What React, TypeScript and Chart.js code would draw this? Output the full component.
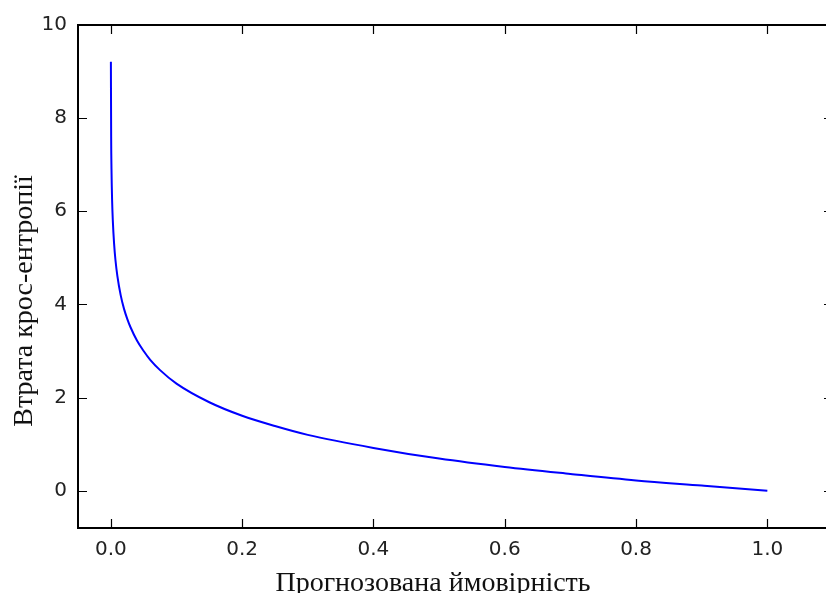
import React, { useEffect, useRef } from "react";
import { Chart, registerables } from "chart.js";

Chart.register(...registerables);

// Predicted probability (x) and cross-entropy loss (y)
const probabilities = [0.0001, 0.0005, 0.001, 0.002, 0.003, 0.005, 0.007, 0.01, 0.015, 0.02, 0.025, 0.03, 0.04, 0.05, 0.06, 0.075, 0.1, 0.15, 0.2, 0.25, 0.3, 0.4, 0.5, 0.6, 0.7, 0.8, 0.9, 1.0];
const lossValues = [9.21, 7.6, 6.91, 6.21, 5.81, 5.3, 4.96, 4.61, 4.2, 3.91, 3.69, 3.51, 3.22, 3.0, 2.81, 2.59, 2.3, 1.9, 1.61, 1.39, 1.2, 0.92, 0.69, 0.51, 0.36, 0.22, 0.11, 0.0];

const xTickValues = [0, 0.2, 0.4, 0.6, 0.8, 1.0];
const xTickLabels = ["0.0", "0.2", "0.4", "0.6", "0.8", "1.0"];
const yTickValues = [0, 2, 4, 6, 8, 10];
const yTickLabels = ["0", "2", "4", "6", "8", "10"];

const xTitle = "Прогнозована ймовірність";
const yTitle = "Втрата крос-ентропії";

const X_MIN = -0.05;
const X_MAX = 1.1;
const Y_MIN = -0.8;
const Y_MAX = 10;

const CANVAS_W = 850;
const CANVAS_H = 600;

const framePlugin = {
  id: "frameAndTicks",
  afterDatasetsDraw(chart: any) {
    const { ctx, chartArea } = chart;
    const xs = chart.scales.x;
    const ys = chart.scales.y;
    const { left, right, top, bottom } = chartArea;
    const len = 9;
    ctx.save();
    ctx.strokeStyle = "#000";
    ctx.lineWidth = 1.2;
    ctx.beginPath();
    for (const v of xTickValues) {
      const px = Math.round(xs.getPixelForValue(v)) + 0.5;
      ctx.moveTo(px, bottom);
      ctx.lineTo(px, bottom - len);
      ctx.moveTo(px, top);
      ctx.lineTo(px, top + len);
    }
    for (const v of yTickValues) {
      const py = Math.round(ys.getPixelForValue(v)) + 0.5;
      ctx.moveTo(left, py);
      ctx.lineTo(left + len, py);
      ctx.moveTo(right, py);
      ctx.lineTo(right - len, py);
    }
    ctx.stroke();
    ctx.lineWidth = 2;
    ctx.strokeStyle = "#000";
    ctx.strokeRect(left, top, right - left, bottom - top);
    ctx.restore();
  },
  afterDraw(chart: any) {
    const { ctx } = chart;
    ctx.save();
    ctx.fillStyle = "#111";
    ctx.font = '28px "Liberation Serif", "Times New Roman", serif';
    ctx.textAlign = "center";
    ctx.textBaseline = "alphabetic";
    ctx.fillText(xTitle, 433, 591);
    ctx.translate(32, 301);
    ctx.rotate(-Math.PI / 2);
    ctx.fillText(yTitle, 0, 0);
    ctx.restore();
  },
};

export default function App() {
  const canvasRef = useRef<HTMLCanvasElement | null>(null);

  useEffect(() => {
    if (!canvasRef.current) return;
    const points = probabilities.map((p, i) => ({ x: p, y: lossValues[i] }));
    const tickFont = { family: '"DejaVu Sans", sans-serif', size: 20 };
    const chart = new Chart(canvasRef.current, {
      type: "line",
      data: {
        datasets: [
          {
            data: points,
            borderColor: "#0000ff",
            borderWidth: 2,
            pointRadius: 0,
            fill: false,
            cubicInterpolationMode: "monotone",
          },
        ],
      },
      options: {
        animation: false,
        responsive: false,
        events: [],
        layout: { padding: { top: 25, right: CANVAS_W - 833, left: 0, bottom: 0 } },
        plugins: { legend: { display: false }, tooltip: { enabled: false } },
        scales: {
          x: {
            type: "linear",
            min: X_MIN,
            max: X_MAX,
            afterBuildTicks: (s: any) => {
              s.ticks = xTickValues.map((v) => ({ value: v }));
            },
            afterFit: (s: any) => {
              s.height = CANVAS_H - 528;
            },
            grid: { display: false, drawTicks: false },
            border: { display: false },
            ticks: {
              padding: 10,
              color: "#222",
              font: tickFont,
              maxRotation: 0,
              callback: (v: any) => {
                const i = xTickValues.findIndex((t) => Math.abs(t - v) < 1e-9);
                return i >= 0 ? xTickLabels[i] : "";
              },
            },
          },
          y: {
            type: "linear",
            min: Y_MIN,
            max: Y_MAX,
            afterBuildTicks: (s: any) => {
              s.ticks = yTickValues.map((v) => ({ value: v }));
            },
            afterFit: (s: any) => {
              s.width = 78;
            },
            grid: { display: false, drawTicks: false },
            border: { display: false },
            ticks: {
              padding: 11,
              color: "#222",
              font: tickFont,
              callback: (v: any) => {
                const i = yTickValues.findIndex((t) => Math.abs(t - v) < 1e-9);
                return i >= 0 ? yTickLabels[i] : "";
              },
            },
          },
        },
      },
      plugins: [framePlugin],
    } as any);
    return () => chart.destroy();
  }, []);

  return (
    <div
      style={{
        position: "fixed",
        left: 0,
        top: 0,
        width: 826,
        height: 593,
        overflow: "hidden",
        background: "#fff",
      }}
    >
      <canvas ref={canvasRef} width={CANVAS_W} height={CANVAS_H} style={{ display: "block" }} />
    </div>
  );
}
